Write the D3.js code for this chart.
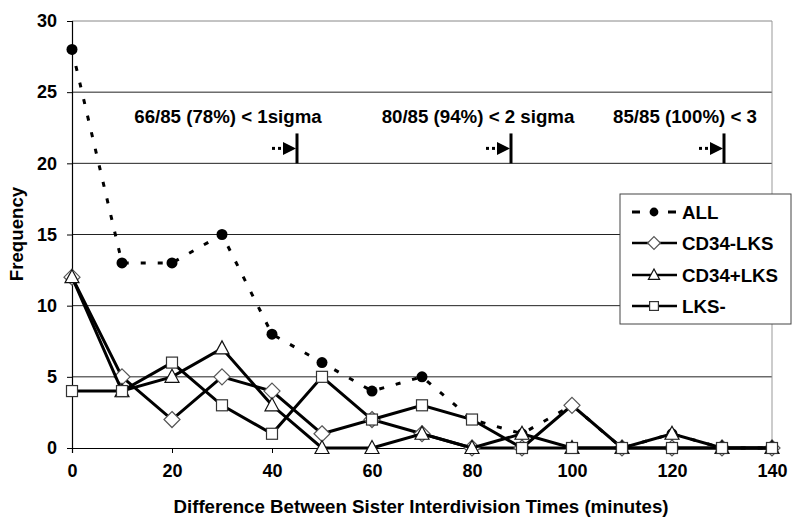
<!DOCTYPE html>
<html><head><meta charset="utf-8">
<script src="https://cdn.jsdelivr.net/npm/d3@7/dist/d3.min.js"></script>
<style>body{margin:0;background:#fff}svg{display:block;font-family:"Liberation Sans",Arial,sans-serif;font-weight:bold}</style>
</head><body>
<script>
const minutes = [0,10,20,30,40,50,60,70,80,90,100,110,120,130,140];
const allSeries   = [28,13,13,15,8,6,4,5,2,1,3,0,1,0,0];
const cd34neg     = [12,5,2,5,4,1,2,1,0,0,3,0,0,0,0];
const cd34pos     = [12,4,5,7,3,0,0,1,0,1,0,0,1,0,0];
const lksNeg      = [4,4,6,3,1,5,2,3,2,0,0,0,0,0,0];
const seriesNames = ["ALL","CD34-LKS","CD34+LKS","LKS-"];
const xTicks = [0,20,40,60,80,100,120,140];
const yTicks = [0,5,10,15,20,25,30];
const annoLabels = ["66/85 (78%) < 1sigma","80/85 (94%) < 2 sigma","85/85 (100%) < 3"];
const annoMarkX  = [45,87.8,130.4];
const annoTextX  = [31.2,81.2,122.6];

const W=800,H=523;
const svg=d3.select("body").append("svg").attr("width",W).attr("height",H);
const x=d3.scaleLinear().domain([0,140]).range([72,772]);
const y=d3.scaleLinear().domain([0,30]).range([448,21]);
const FS=18.7;

// gridlines
svg.append("g").selectAll("line").data(yTicks.filter(v=>v>0&&v<30)).join("line")
  .attr("x1",x(0)).attr("x2",x(140)).attr("y1",d=>y(d)).attr("y2",d=>y(d))
  .attr("stroke","#222").attr("stroke-width",1);
// plot border top/right
svg.append("line").attr("x1",x(0)).attr("x2",x(140)).attr("y1",y(30)).attr("y2",y(30)).attr("stroke","#888");
svg.append("line").attr("x1",x(140)).attr("x2",x(140)).attr("y1",y(30)).attr("y2",y(0)).attr("stroke","#999");

// axes
const yAxis=svg.append("g").attr("transform",`translate(${x(0)},0)`)
  .call(d3.axisLeft(y).tickValues(yTicks).tickSize(5).tickPadding(10));
const xAxis=svg.append("g").attr("transform",`translate(0,${y(0)})`)
  .call(d3.axisBottom(x).tickValues(xTicks).tickSize(5).tickPadding(10));
[xAxis,yAxis].forEach(a=>{
  a.select(".domain").attr("stroke","#000").attr("stroke-width",1.2);
  a.selectAll(".tick line").attr("stroke","#000");
  a.selectAll("text").attr("font-size",18).attr("font-weight","bold").attr("fill","#000")
   .attr("font-family","'Liberation Sans',Arial,sans-serif");
});
xAxis.selectAll("text").attr("dy","0.75em");

// titles
svg.append("text").attr("x",421).attr("y",513).attr("text-anchor","middle").attr("font-size",FS)
  .text("Difference Between Sister Interdivision Times (minutes)");
svg.append("text").attr("transform","translate(23,234) rotate(-90)").attr("text-anchor","middle").attr("font-size",FS)
  .text("Frequency");

// annotations
const ag=svg.append("g");
annoLabels.forEach((t,i)=>{
  ag.append("text").attr("x",x(annoTextX[i])).attr("y",y(22.85)).attr("text-anchor","middle").attr("font-size",FS).text(t);
  const bx=x(annoMarkX[i]);
  ag.append("line").attr("x1",bx).attr("x2",bx).attr("y1",y(20)).attr("y2",y(22.1)).attr("stroke","#000").attr("stroke-width",3);
  const cy=(y(20)+y(22.1))/2;
  ag.append("path").attr("d",`M${bx-1},${cy} L${bx-14},${cy-6.5} L${bx-14},${cy+6.5} Z`).attr("fill","#000");
  ag.append("rect").attr("x",bx-25).attr("y",cy-1.5).attr("width",3).attr("height",3).attr("fill","#000");
  ag.append("rect").attr("x",bx-19).attr("y",cy-1.5).attr("width",3).attr("height",3).attr("fill","#000");
});

// marker drawers
function marker(g,type,cx,cy,s){
  s=s||1;
  if(type==="circle") g.append("circle").attr("cx",cx).attr("cy",cy).attr("r",5.5*s).attr("fill","#000");
  else if(type==="diamond") g.append("path").attr("d",`M${cx},${cy-8*s}L${cx+8*s},${cy}L${cx},${cy+8*s}L${cx-8*s},${cy}Z`)
     .attr("fill","#fff").attr("stroke","#555").attr("stroke-width",1.2);
  else if(type==="triangle") g.append("path").attr("d",`M${cx},${cy-7.5*s}L${cx+7*s},${cy+5.5*s}L${cx-7*s},${cy+5.5*s}Z`)
     .attr("fill","#fff").attr("stroke","#111").attr("stroke-width",1.2);
  else g.append("rect").attr("x",cx-5.5*s).attr("y",cy-5.5*s).attr("width",11*s).attr("height",11*s)
     .attr("fill","#fff").attr("stroke","#333").attr("stroke-width",1.2);
}

const series=[
  {name:seriesNames[0],vals:allSeries,type:"circle",dash:"5,12"},
  {name:seriesNames[1],vals:cd34neg,type:"diamond",dash:null},
  {name:seriesNames[2],vals:cd34pos,type:"triangle",dash:null},
  {name:seriesNames[3],vals:lksNeg,type:"square",dash:null}
];
const line=d3.line().x((d,i)=>x(minutes[i])).y(d=>y(d));
series.forEach(s=>{
  const g=svg.append("g");
  g.append("path").attr("d",line(s.vals)).attr("fill","none").attr("stroke","#000")
   .attr("stroke-width",3).attr("stroke-dasharray",s.dash);
  s.vals.forEach((v,i)=>marker(g,s.type,x(minutes[i]),y(v)));
});

// legend
const lg=svg.append("g");
lg.append("rect").attr("x",620).attr("y",194).attr("width",171).attr("height",130)
  .attr("fill","#fff").attr("stroke","#444").attr("stroke-width",1);
const rowsY=[212,243,275,306];
series.forEach((s,i)=>{
  const yy=rowsY[i];
  if(s.dash){
    lg.append("line").attr("x1",632).attr("x2",640).attr("y1",yy).attr("y2",yy).attr("stroke","#000").attr("stroke-width",3);
    lg.append("line").attr("x1",668).attr("x2",676).attr("y1",yy).attr("y2",yy).attr("stroke","#000").attr("stroke-width",3);
  } else {
    lg.append("line").attr("x1",632).attr("x2",677).attr("y1",yy).attr("y2",yy).attr("stroke","#000").attr("stroke-width",2.5);
  }
  marker(lg,s.type,654,yy,0.8);
  lg.append("text").attr("x",682).attr("y",yy).attr("dy","0.35em").attr("font-size",FS).text(s.name);
});
</script>
</body></html>
